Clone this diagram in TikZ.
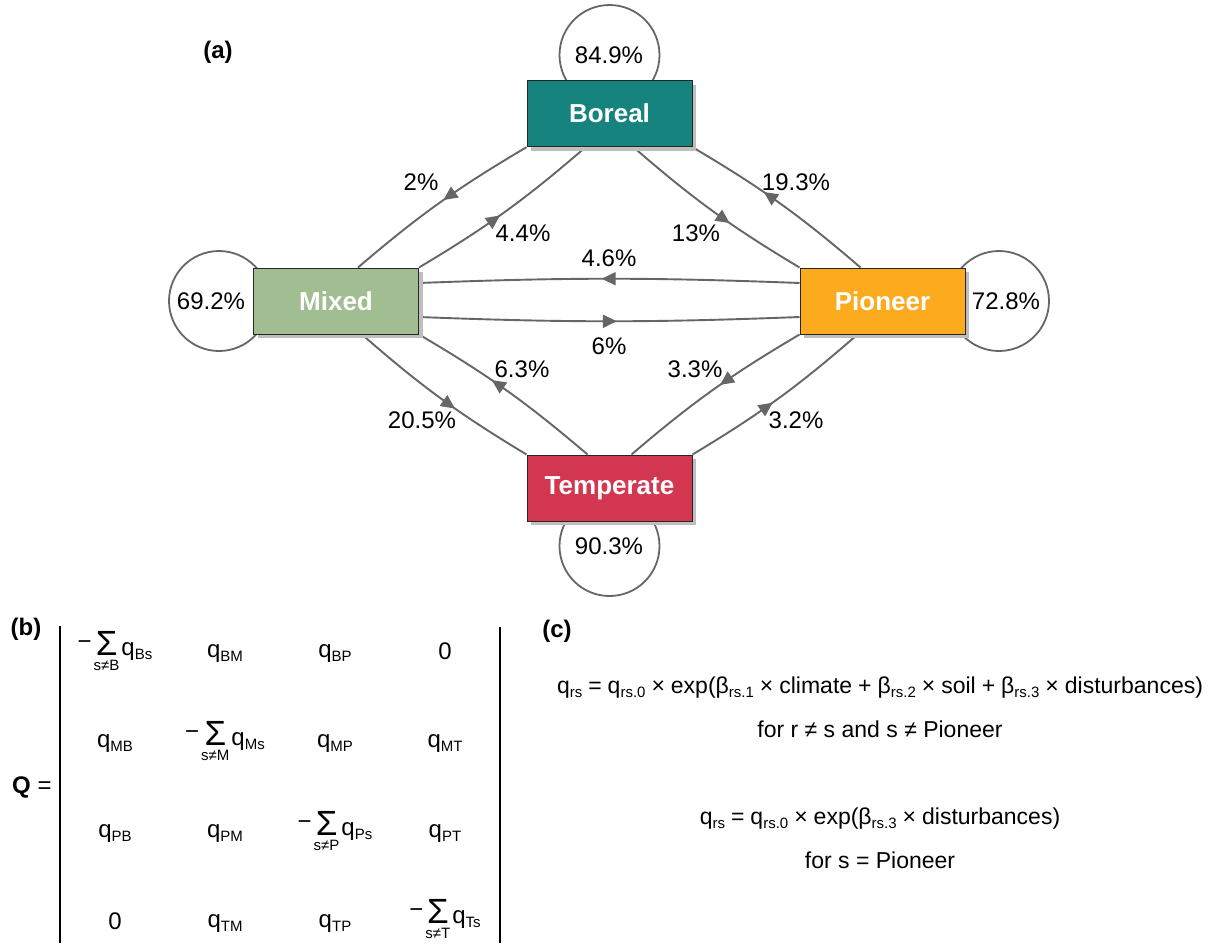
\documentclass[tikz,border=0pt]{standalone}
\usepackage{fontspec}
\setmainfont{Liberation Sans}
\usetikzlibrary{arrows.meta,decorations.markings,shadows,calc}
\pgfdeclarelayer{bg}
\pgfsetlayers{bg,main}

\definecolor{edgec}{RGB}{102,102,102}
\definecolor{borealc}{RGB}{22,131,126}
\definecolor{mixedc}{RGB}{160,190,146}
\definecolor{pioneerc}{RGB}{252,171,30}
\definecolor{tempc}{RGB}{211,54,80}
\definecolor{shadc}{RGB}{190,190,190}

\newcommand{\fs}[1]{\fontsize{#1pt}{#1pt}\selectfont}
\newcommand{\sbs}[1]{\raisebox{-4pt}{\fs{15}#1}}
\newcommand{\sumlim}[1]{\vtop{\baselineskip=15pt\lineskiplimit=-50pt\lineskip=0pt\halign{\hfil##\hfil\cr\fs{35}Σ\cr\fs{15}s≠#1\cr}}}
\newcommand{\sumq}[2]{\raisebox{6pt}{−}\hspace{2pt}\sumlim{#1}\hspace{2pt}q\sbs{#2}}
\newcommand{\opr}[1]{\hspace{6pt}#1\hspace{6pt}}

\tikzset{
  statebox/.style={draw=black!85, line width=1pt, minimum width=165pt, minimum height=66pt,
    inner sep=0pt, font={\fs{26}\bfseries}, text=white,
    general shadow={fill=shadc, shadow xshift=4pt, shadow yshift=-4pt}},
  loopc/.style={circle, draw=edgec, line width=1.8pt, minimum size=100pt, inner sep=0pt},
  pct/.style={font={\fs{24}}, inner sep=0pt},
  flow/.style={color=edgec, line width=1.9pt, postaction={decorate},
    decoration={markings, mark=at position #1 with {\arrow{Triangle[length=14pt,width=13pt]}}}},
  mtx/.style={font={\fs{24}}, inner sep=0pt, anchor=base},
  eqn/.style={font={\fs{23}}, inner sep=0pt, anchor=base},
  panel/.style={font={\fs{24}\bfseries}, inner sep=0pt},
}

\begin{document}
\begin{tikzpicture}[x=1pt, y=-1pt]
\useasboundingbox (0,0) rectangle (1212,943);

% self-loop circles
\node[loopc] (cB) at (609.5,55) {};
\node[loopc] (cM) at (219,301) {};
\node[loopc] (cP) at (999,301) {};
\node[loopc] (cT) at (609.5,546) {};

% state boxes
\node[statebox, fill=borealc] (B) at (609.5,113.7) {Boreal};
\node[statebox, fill=mixedc] (M) at (336,301) {Mixed};
\node[statebox, fill=pioneerc] (P) at (882.5,301) {Pioneer};
\node[statebox, fill=tempc] (T) at (609.5,488) {Temperate};

\begin{pgfonlayer}{bg}
\fill[white] (0,0) rectangle (1212,943);
\draw[flow=0.475] (B.south west) to[bend right=5] ([xshift=22pt]M.north);
\draw[flow=0.468] (M.north east) to[bend right=5] ([xshift=-24pt]B.south);
\draw[flow=0.597] ([xshift=24pt]B.south) to[bend right=5] (P.north west);
\draw[flow=0.593] ([xshift=-22pt]P.north) to[bend right=5] (B.south east);
\draw[flow=0.583] ([xshift=26pt]M.south) to[bend right=5] (T.north west);
\draw[flow=0.585] ([xshift=-22pt]T.north) to[bend right=5] (M.south east);
\draw[flow=0.455] (P.south west) to[bend right=5] ([xshift=22pt]T.north);
\draw[flow=0.467] (T.north east) to[bend right=5] ([xshift=-25pt]P.south);
\draw[flow=0.52] ([yshift=18pt]P.west) to[bend right=2.2] ([yshift=18pt]M.east);
\draw[flow=0.52] ([yshift=-16pt]M.east) to[bend right=2.2] ([yshift=-16pt]P.west);
\end{pgfonlayer}

% loop labels
\node[pct] (lB) at (609,55) {84.9\%};
\node[pct] (lM) at (211,301) {69.2\%};
\node[pct] (lP) at (1006,301) {72.8\%};
\node[pct] (lT) at (609,546) {90.3\%};

% transition labels
\node[pct] (eBM) at (421,182) {2\%};
\node[pct] (eMB) at (523,233) {4.4\%};
\node[pct] (eBP) at (696,233) {13\%};
\node[pct] (ePB) at (796,182) {19.3\%};
\node[pct] (ePM) at (609,258) {4.6\%};
\node[pct] (eMP) at (609,346) {6\%};
\node[pct] (eMT) at (422,420) {20.5\%};
\node[pct] (eTM) at (522,369) {6.3\%};
\node[pct] (ePT) at (695,369) {3.3\%};
\node[pct] (eTP) at (796,420) {3.2\%};

% panel labels
\node[panel] (pa) at (218,52) {(a)};
\node[panel] (pb) at (26,629) {(b)};
\node[panel] (pc) at (557,631) {(c)};

% matrix Q
\node[mtx, anchor=base west] (Qeq) at (12,793) {\textbf{Q} =};
\draw[line width=2pt] (60,626) -- (60,943);
\draw[line width=2pt] (500,627) -- (500,943);

\node[mtx] (m11) at (115,655) {\sumq{B}{Bs}};
\node[mtx] (m12) at (225,657) {q\sbs{BM}};
\node[mtx] (m13) at (335,657) {q\sbs{BP}};
\node[mtx] (m14) at (445,659) {0};

\node[mtx] (m21) at (115,747) {q\sbs{MB}};
\node[mtx] (m22) at (225,745) {\sumq{M}{Ms}};
\node[mtx] (m23) at (335,747) {q\sbs{MP}};
\node[mtx] (m24) at (445,747) {q\sbs{MT}};

\node[mtx] (m31) at (115,837) {q\sbs{PB}};
\node[mtx] (m32) at (225,837) {q\sbs{PM}};
\node[mtx] (m33) at (335,835) {\sumq{P}{Ps}};
\node[mtx] (m34) at (445,837) {q\sbs{PT}};

\node[mtx] (m41) at (115,929) {0};
\node[mtx] (m42) at (225,927) {q\sbs{TM}};
\node[mtx] (m43) at (335,927) {q\sbs{TP}};
\node[mtx] (m44) at (445,923) {\sumq{T}{Ts}};

% equations (c)
\node[eqn] (eq1) at (880,693) {q\sbs{rs}\opr{=}q\sbs{rs.0}\opr{×}exp(β\sbs{rs.1}\opr{×}climate\opr{+}β\sbs{rs.2}\opr{×}soil\opr{+}β\sbs{rs.3}\opr{×}disturbances)};
\node[eqn] (eq2) at (880,737) {for r ≠ s and s ≠ Pioneer};
\node[eqn] (eq3) at (880,824) {q\sbs{rs}\opr{=}q\sbs{rs.0}\opr{×}exp(β\sbs{rs.3}\opr{×}disturbances)};
\node[eqn] (eq4) at (880,868) {for s = Pioneer};
\end{tikzpicture}
\end{document}
